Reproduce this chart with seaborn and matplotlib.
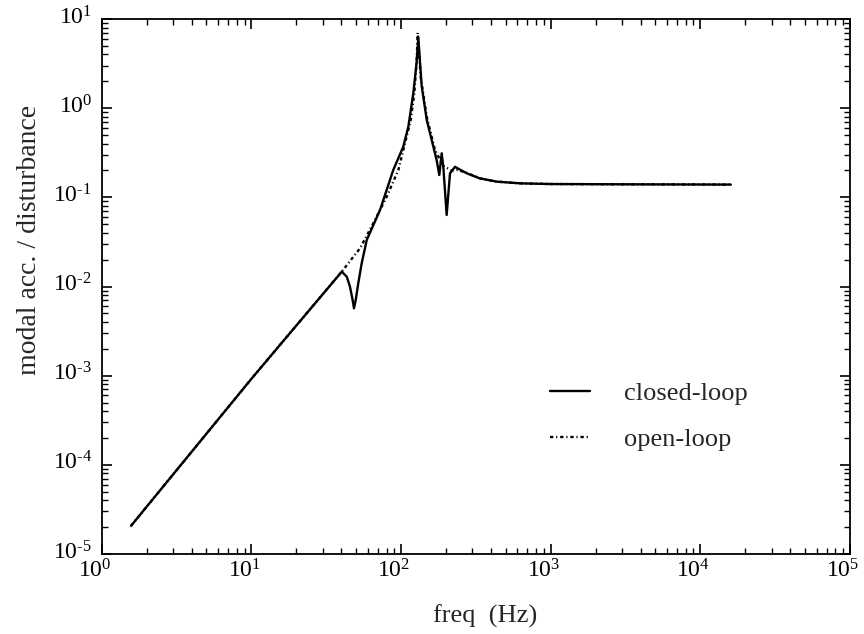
import math
import matplotlib
matplotlib.use("Agg")
import matplotlib.pyplot as plt
import matplotlib.transforms as mtransforms
from matplotlib.lines import Line2D
import pandas as pd
import seaborn as sns
from matplotlib.ticker import LogLocator, FuncFormatter, NullFormatter

# Closed-loop frequency response (Hz, modal acceleration per unit disturbance)
freq_closed = [1.57, 10.05, 40.2, 43.4, 45.6, 47.5, 48.5, 49.8, 51.8, 54.6, 57.4, 59.0,
               72.4, 88.7, 103.5, 111.9, 120.8, 127.0, 130.5, 137.4, 148.6, 164.4,
               173.0, 180.2, 187.0, 191.7, 201.8, 212.5, 229.4, 274.8, 337.0, 435.7,
               624.0, 1000.0, 3000.0, 16000.0]
acc_closed = [2.07e-5, 9.3e-4, 0.01466, 0.01288, 0.00995, 0.00705, 0.00569, 0.00705,
              0.01087, 0.0182, 0.0268, 0.0332,
              0.0721, 0.202, 0.370, 0.619, 1.47, 3.2, 6.2, 1.77, 0.736, 0.370,
              0.262, 0.178, 0.312, 0.220, 0.0634, 0.186, 0.220, 0.186, 0.163, 0.150,
              0.1435, 0.141, 0.140, 0.139]

# Open-loop frequency response
freq_open = [1.57, 10.05, 40.2, 53.2, 65.3, 80.2, 95.9, 106.3, 116.1, 122.7, 127.3,
             129.2, 135.3, 148.6, 168.6, 191.7, 218.0, 240.0, 274.8, 337.0, 435.7,
             624.0, 1000.0, 3000.0, 16000.0]
acc_open = [2.07e-5, 9.3e-4, 0.0147, 0.0268, 0.0512, 0.1017, 0.202, 0.404, 0.736,
            1.47, 3.47, 7.0, 2.25, 0.80, 0.34, 0.225, 0.200, 0.203, 0.188, 0.163,
            0.150, 0.1435, 0.141, 0.140, 0.139]

series_names = ["closed-loop", "open-loop"]
x_ticks = [1e0, 1e1, 1e2, 1e3, 1e4, 1e5]
y_ticks = [1e-5, 1e-4, 1e-3, 1e-2, 1e-1, 1e0, 1e1]

df = pd.concat([
    pd.DataFrame({"freq": freq_closed, "acc": acc_closed, "series": series_names[0]}),
    pd.DataFrame({"freq": freq_open, "acc": acc_open, "series": series_names[1]}),
], ignore_index=True)

sns.set_style("ticks")
plt.rcParams["font.family"] = ["Liberation Serif", "DejaVu Serif"]
plt.rcParams["mathtext.fontset"] = "custom"
plt.rcParams["mathtext.rm"] = "Liberation Serif"
plt.rcParams["mathtext.it"] = "Liberation Serif:italic"
plt.rcParams["mathtext.bf"] = "Liberation Serif:bold"

fig = plt.figure(figsize=(8.64, 6.34), dpi=100)
W, H = 864, 634
left, right, top, bottom = 101.7, 850, 19, 554
ax = fig.add_axes([left / W, 1 - bottom / H, (right - left) / W, (bottom - top) / H])

DASH_OPEN = (1.4, 1.2, 0.5, 1.2)
LW = 1.7

# open-loop drawn first so the solid closed-loop line sits on top
sns.lineplot(data=df, x="freq", y="acc", style="series", hue="series",
             palette={"closed-loop": "black", "open-loop": "black"},
             dashes={"closed-loop": "", "open-loop": DASH_OPEN},
             hue_order=series_names[::-1], style_order=series_names[::-1],
             sort=False, estimator=None, linewidth=LW, ax=ax, legend=False)

ax.set_xscale("log")
ax.set_yscale("log")
ax.set_xlim(x_ticks[0], x_ticks[-1])
ax.set_ylim(y_ticks[0], y_ticks[-1])


def pow10(v, pos):
    e = int(round(math.log10(v)))
    exp = ("\u2010%d" % -e) if e < 0 else "%d" % e
    return r"$\mathregular{10^{%s}}$" % exp


ax.set_xticks(x_ticks)
ax.set_yticks(y_ticks)
ax.xaxis.set_minor_locator(LogLocator(base=10, subs=range(2, 10), numticks=20))
ax.yaxis.set_minor_locator(LogLocator(base=10, subs=range(2, 10), numticks=20))
ax.xaxis.set_major_formatter(FuncFormatter(pow10))
ax.yaxis.set_major_formatter(FuncFormatter(pow10))
ax.xaxis.set_minor_formatter(NullFormatter())
ax.yaxis.set_minor_formatter(NullFormatter())

ax.tick_params(which="both", direction="in", top=True, right=True,
               colors="black", labelsize=17)
ax.tick_params(which="major", length=7, width=1.2)
ax.tick_params(which="minor", length=4, width=1.0)
ax.tick_params(axis="x", which="major", pad=4)
ax.tick_params(axis="y", which="major", pad=7)
for s in ax.spines.values():
    s.set_linewidth(1.3)
    s.set_color("black")
    s.set_visible(True)

# x tick labels sit a little left of their ticks, y tick labels a little above
xshift = mtransforms.ScaledTranslation(-7 / 100, 0, fig.dpi_scale_trans)
for lab in ax.get_xticklabels():
    lab.set_transform(lab.get_transform() + xshift)
yshift = mtransforms.ScaledTranslation(0, 4 / 100, fig.dpi_scale_trans)
for lab in ax.get_yticklabels():
    lab.set_transform(lab.get_transform() + yshift)

ax.set_xlabel("freq  (Hz)", fontsize=19)
ax.xaxis.set_label_coords((485 - left) / (right - left), -0.094)
ax.set_ylabel("modal acc. / disturbance", fontsize=20)
ax.yaxis.set_label_coords(-0.08, (bottom - 240) / (bottom - top))

handles = [Line2D([], [], color="black", lw=LW),
           Line2D([], [], color="black", lw=LW, dashes=DASH_OPEN)]
ax.legend(handles, series_names, loc="upper left",
          bbox_to_anchor=(550 / W, 1 - 382 / H), bbox_transform=fig.transFigure,
          frameon=False, fontsize=19, borderpad=0, borderaxespad=0,
          handlelength=1.5, handletextpad=1.3, labelspacing=0.83)

fig.savefig("out.png", dpi=100)
